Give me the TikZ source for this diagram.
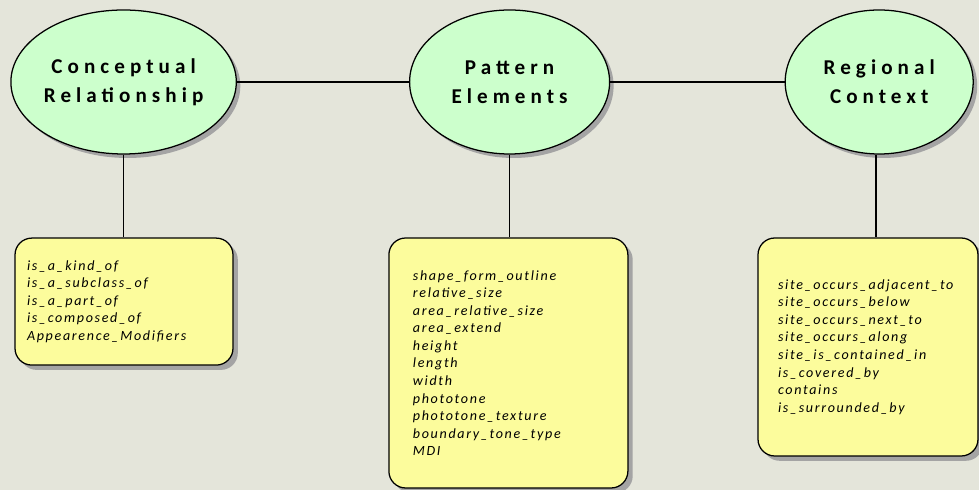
\documentclass[tikz,border=0pt]{standalone}
\usepackage{fontspec}
\setmainfont{Carlito}
\usepackage{tikz}
\usetikzlibrary{shapes.geometric, shadows}
\definecolor{PaperGrey}{HTML}{E4E5DA}
\definecolor{ConceptGreen}{HTML}{CCFFCC}
\definecolor{ListYellow}{HTML}{FCFC9C}
\definecolor{ShadowGrey}{HTML}{A4A4A4}
\newfontfamily\headfont[LetterSpace=24]{Carlito}
\newfontfamily\listfont[LetterSpace=12]{Carlito}

\begin{document}
\begin{tikzpicture}[
    concept/.style={ellipse, draw=black, line width=0.9pt, fill=ConceptGreen, align=center,
        inner sep=0pt, font=\headfont\bfseries\fontsize{15}{20.5}\selectfont,
        drop shadow={shadow xshift=0.1cm, shadow yshift=-0.1cm, fill=ShadowGrey, opacity=1}},
    termlist/.style={rectangle, rounded corners=0.42cm, draw=black, line width=0.9pt, fill=ListYellow,
        align=left, inner ysep=0pt, font=\listfont\itshape\fontsize{10}{12.5}\selectfont,
        drop shadow={shadow xshift=0.12cm, shadow yshift=-0.12cm, fill=ShadowGrey, opacity=1}},
    link/.style={draw=black, line width=0.8pt}
]
    \fill[PaperGrey] (0,0) rectangle (24.475,12.25);
    \useasboundingbox (0,0) rectangle (24.475,12.25);

    % the three top level categories
    \node[concept, minimum width=5.5cm, minimum height=3.6cm] (relation) at (3.09,10.2) {Conceptual\\Relationship};
    \node[concept, minimum width=5.0cm, minimum height=3.6cm] (pattern) at (12.74,10.2) {Pattern\\Elements};
    \node[concept, minimum width=4.7cm, minimum height=3.6cm] (context) at (21.98,10.2) {Regional\\Context};

    % the terms under each category
    \node[termlist, text width=4.85cm, inner xsep=0.3cm, minimum height=3.175cm] (relationterms) at (3.1,4.71) {%
        is\_a\_kind\_of\\
        is\_a\_subclass\_of\\
        is\_a\_part\_of\\
        is\_composed\_of\\
        Appearence\_Modifiers};
    \node[termlist, text width=4.775cm, inner xsep=0.6cm, minimum height=6.25cm] (patternterms) at (12.71,3.175) {%
        shape\_form\_outline\\
        relative\_size\\
        area\_relative\_size\\
        area\_extend\\
        height\\
        length\\
        width\\
        phototone\\
        phototone\_texture\\
        boundary\_tone\_type\\
        MDI};
    \node[termlist, text width=4.5cm, inner xsep=0.5cm, minimum height=5.45cm] (contextterms) at (21.7,3.575) {%
        site\_occurs\_adjacent\_to\\
        site\_occurs\_below\\
        site\_occurs\_next\_to\\
        site\_occurs\_along\\
        site\_is\_contained\_in\\
        is\_covered\_by\\
        contains\\
        is\_surrounded\_by};

    \draw[link] (relation.east) -- (pattern.west);
    \draw[link] (pattern.east) -- (context.west);
    \draw[link] (relation.south) -- (relation.south |- relationterms.north);
    \draw[link] (pattern.south) -- (pattern.south |- patternterms.north);
    \draw[link] ([xshift=-0.08cm]context.south) -- ([xshift=-0.08cm]context.south |- contextterms.north);
\end{tikzpicture}
\end{document}
